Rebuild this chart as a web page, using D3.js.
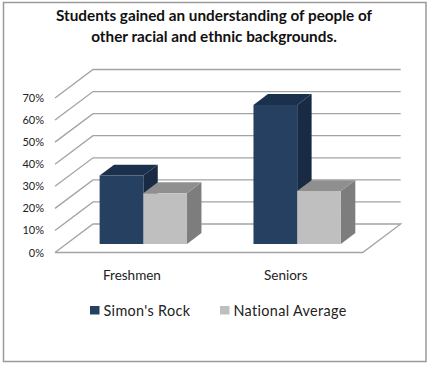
<!DOCTYPE html>
<html>
<head>
<meta charset="utf-8">
<script src="https://cdnjs.cloudflare.com/ajax/libs/d3/7.8.5/d3.min.js"></script>
<style>
  html, body { margin: 0; padding: 0; background: #fff; }
  svg { display: block; font-family: Lato, "Open Sans", sans-serif; }
</style>
</head>
<body>
<div id="chart"></div>
<script>
var categories = ["Freshmen", "Seniors"];
var seriesNames = ["Simon's Rock", "National Average"];
var simonsRock = [31, 63];
var nationalAverage = [23, 24];
var yTicks = [0, 10, 20, 30, 40, 50, 60, 70];
var titleLines = ["Students gained an understanding of people of", "other racial and ethnic backgrounds."];

var width = 429, height = 365;

var svg = d3.select("#chart").append("svg")
    .attr("width", width)
    .attr("height", height);

// outer frame
svg.append("rect")
    .attr("x", 3.5).attr("y", 2.5)
    .attr("width", 422.5).attr("height", 359)
    .attr("fill", "#fff")
    .attr("stroke", "#9a9a9a")
    .attr("stroke-width", 1.5);

// title
svg.selectAll(".title").data(titleLines).enter().append("text")
    .attr("class", "title")
    .attr("x", 214)
    .attr("y", function(d, i) { return 21 + i * 21; })
    .attr("text-anchor", "middle")
    .style("font-size", "15.3px")
    .style("font-weight", "bold")
    .style("fill", "#111")
    .text(function(d) { return d; });

// scales, front plane of the 3d box
var y = d3.scaleLinear().domain([0, 70]).range([252.5, 98]);
var xFront = d3.scaleBand().domain(categories).range([55, 362.7]);
var depthX = 38, depthY = -28.5;
var barNear = 0.3, barFar = 0.68;

var xSeries = d3.scaleBand().domain(seriesNames).range([-43.7, 43.7]);

// project a value position back into the box (d goes 0 front .. 1 back)
function px(x, d) { return x + d * depthX; }
function py(v, d) { return y(v) + d * depthY; }
function pts(list) { return list.map(function(p) { return p.join(","); }).join(" "); }

// back and side wall grid lines
var x0 = xFront.range()[0], x1 = xFront.range()[1];
var backRight = x1 + depthX;

svg.append("g").selectAll("polyline").data(yTicks).enter().append("polyline")
    .attr("fill", "none")
    .attr("stroke", "#a3a3a3")
    .attr("stroke-width", 1.3)
    .attr("points", function(t) {
        var line = [[px(x0, 0), py(t, 0)], [px(x0, 1), py(t, 1)], [backRight, py(t, 1)]];
        if (t === 0) {
            line.push([x1, py(0, 0)], [x0, py(0, 0)]);
        }
        return pts(line);
    });

// y axis labels
var yAxis = d3.axisLeft(y)
    .tickValues(yTicks)
    .tickSize(0)
    .tickFormat(function(d) { return d + "%"; });

var yG = svg.append("g")
    .attr("transform", "translate(47,0)")
    .call(yAxis);
yG.select(".domain").remove();
yG.selectAll("text")
    .style("font-family", "Lato, sans-serif")
    .style("font-size", "11px")
    .style("fill", "#222");

// x labels
svg.selectAll(".cat").data(categories).enter().append("text")
    .attr("class", "cat")
    .attr("x", function(d) { return xFront(d) + xFront.bandwidth() / 2; })
    .attr("y", 280)
    .attr("text-anchor", "middle")
    .style("font-size", "13.5px")
    .style("fill", "#222")
    .text(function(d) { return d; });

// 3d bars
var barSeries = [
    {name: seriesNames[0], values: simonsRock, front: "#254061", top: "#1b304d", side: "#182a44"},
    {name: seriesNames[1], values: nationalAverage, front: "#bfbfbf", top: "#8f8f8f", side: "#7d7d7d"}
];

function drawBar(g, s, i) {
    var c = categories[i];
    var left = xFront(c) + xFront.bandwidth() / 2 + xSeries(s.name);
    var right = left + xSeries.bandwidth();
    var v = s.values[i];

    g.append("polygon")
        .attr("fill", s.side)
        .attr("points", pts([
            [px(right, barNear), py(0, barNear)], [px(right, barFar), py(0, barFar)],
            [px(right, barFar), py(v, barFar)], [px(right, barNear), py(v, barNear)]
        ]));
    g.append("polygon")
        .attr("fill", s.top)
        .attr("points", pts([
            [px(left, barNear), py(v, barNear)], [px(right, barNear), py(v, barNear)],
            [px(right, barFar), py(v, barFar)], [px(left, barFar), py(v, barFar)]
        ]));
    g.append("polygon")
        .attr("fill", s.front)
        .attr("points", pts([
            [px(left, barNear), py(0, barNear)], [px(right, barNear), py(0, barNear)],
            [px(right, barNear), py(v, barNear)], [px(left, barNear), py(v, barNear)]
        ]));
}

// draw series left to right so the gray sits in front
var barsG = svg.append("g");
categories.forEach(function(c, i) {
    barSeries.forEach(function(s) {
        drawBar(barsG.append("g"), s, i);
    });
});

// legend
var legendX = [90, 220];
var legend = svg.selectAll(".legend").data(barSeries).enter().append("g")
    .attr("class", "legend")
    .attr("transform", function(d, i) { return "translate(" + legendX[i] + ",306)"; });

legend.append("rect")
    .attr("width", 9.5)
    .attr("height", 8.5)
    .attr("fill", function(d) { return d.front; });

legend.append("text")
    .attr("x", 13.5)
    .attr("y", 9.5)
    .style("font-size", "14.4px")
    .style("letter-spacing", "0.35px")
    .style("fill", "#222")
    .text(function(d) { return d.name; });
</script>
</body>
</html>
